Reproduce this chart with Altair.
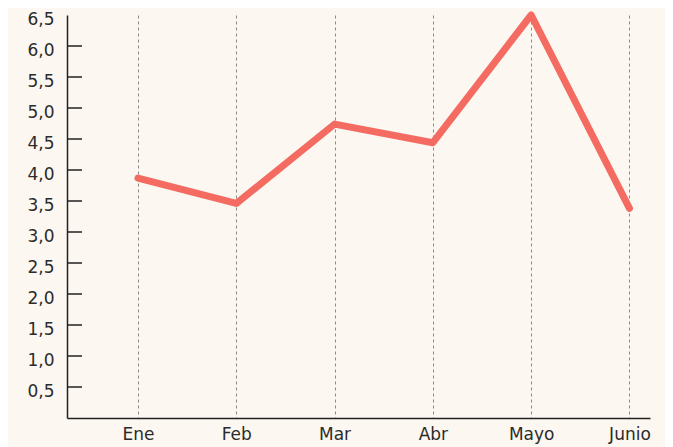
import altair as alt
import pandas as pd

months = ["Ene", "Feb", "Mar", "Abr", "Mayo", "Junio"]
values = [3.87, 3.46, 4.74, 4.44, 6.5, 3.38]
y_ticks = [0.5, 1.0, 1.5, 2.0, 2.5, 3.0, 3.5, 4.0, 4.5, 5.0, 5.5, 6.0]
y_labels = y_ticks + [6.5]

df = pd.DataFrame({"idx": list(range(len(months))), "mes": months, "valor": values})
ticks_df = pd.DataFrame({"t": y_ticks})

label_array = "[" + ",".join(f"'{m}'" for m in months) + "]"
FONT = "DejaVu Sans"

x_scale = alt.Scale(domain=[-0.722, 5.209], nice=False, zero=False)
y_scale = alt.Scale(domain=[0, 6.5], nice=False)

y_axis = alt.Axis(values=y_labels,
                  labelExpr="replace(format(datum.value, '.1f'), '.', ',')",
                  grid=False, ticks=False, domainColor="#222222", domainWidth=1.5,
                  labelFont=FONT, labelFontSize=17, labelColor="#2b2b2b",
                  labelPadding=13, labelOffset=4, labelOverlap=False,
                  labelFlush=False)

line = alt.Chart(df).mark_line(
    color="#f46b62", strokeWidth=7, strokeCap="round", strokeJoin="round", clip=False
).encode(
    x=alt.X("idx:Q", scale=x_scale, title=None,
            axis=alt.Axis(values=list(range(len(months))),
                          labelExpr=label_array + "[datum.value]",
                          grid=True, gridDash=[3, 3], gridColor="#8a8a8a", gridWidth=1,
                          ticks=False, domainColor="#222222", domainWidth=1.5,
                          labelFont=FONT, labelFontSize=17, labelColor="#2b2b2b",
                          labelPadding=8, labelOverlap=False, labelFlush=False)),
    y=alt.Y("valor:Q", scale=y_scale, title=None, axis=y_axis),
)

tick_rules = alt.Chart(ticks_df).mark_rule(color="#222222", strokeWidth=1.5).encode(
    y=alt.Y("t:Q", scale=y_scale, title=None, axis=y_axis),
    x=alt.value(0),
    x2=alt.value(15),
)

chart = alt.layer(tick_rules, line).properties(
    width=583, height=403,
    autosize=alt.AutoSizeParams(type="none"),
    padding={"left": 59, "top": 7, "right": 15, "bottom": 29},
    background="#fcf7f1",
).configure_view(stroke=None).configure_axis(labelOverlap=False)

chart.save("out.html", embed_options={"renderer": "svg", "actions": False})
